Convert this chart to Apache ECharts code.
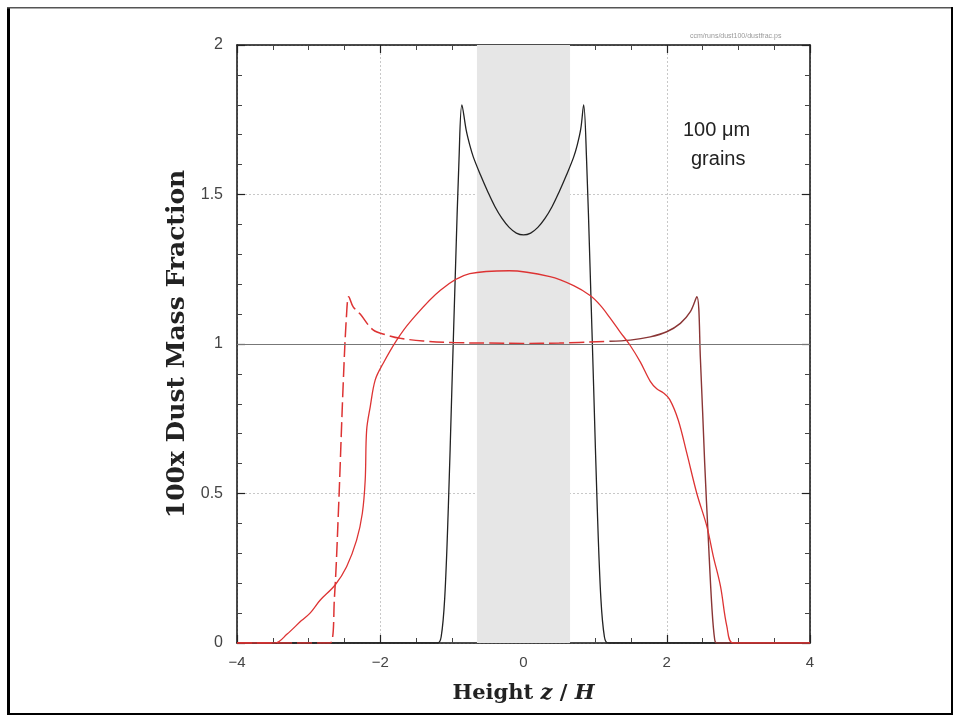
<!DOCTYPE html>
<html>
<head>
<meta charset="utf-8">
<script src="https://cdn.jsdelivr.net/npm/echarts@6/dist/echarts.min.js"></script>
<style>
  html, body { margin: 0; padding: 0; background: #fff; }
  #chart { width: 961px; height: 723px; }
</style>
</head>
<body>
<div id="chart"></div>
<script>
// Dust-to-gas ratio profiles versus height for 100 micron grains
const gasLevel = 1;
const midplaneBand = [-0.65, 0.65];

const blackX = [-4, -1.2, -1.15, -1.1, -1.05, -1.0, -0.95, -0.9, -0.86, -0.8, -0.75, -0.7, -0.6, -0.5, -0.4, -0.3, -0.2, -0.1, 0,
                0.1, 0.2, 0.3, 0.4, 0.5, 0.6, 0.7, 0.75, 0.8, 0.84, 0.88, 0.93, 0.98, 1.03, 1.08, 1.13, 1.18, 4];
const blackY = [0, 0, 0.02, 0.15, 0.45, 0.85, 1.25, 1.62, 1.80, 1.715, 1.665, 1.625, 1.565, 1.51, 1.46, 1.42, 1.39, 1.371, 1.365,
                1.371, 1.39, 1.42, 1.46, 1.51, 1.565, 1.625, 1.665, 1.72, 1.80, 1.62, 1.25, 0.85, 0.45, 0.15, 0.02, 0, 0];

const redX = [-4, -3.47, -3.3, -3.1, -2.98, -2.84, -2.63, -2.47, -2.33, -2.25, -2.21, -2.19, -2.14, -2.07, -1.96, -1.77, -1.58, -1.16, -0.75, -0.2,
              0.37, 0.7, 0.93, 1.07, 1.2, 1.35, 1.49, 1.63, 1.77, 1.86, 1.95, 2.04, 2.16, 2.28, 2.42, 2.56, 2.65, 2.75, 2.84, 2.93, 4];
const redY = [0, 0, 0.03, 0.075, 0.10, 0.143, 0.194, 0.255, 0.344, 0.434, 0.545, 0.712, 0.79, 0.88, 0.935, 1.013, 1.075, 1.18, 1.235, 1.245,
              1.225, 1.195, 1.162, 1.13, 1.09, 1.04, 0.995, 0.94, 0.875, 0.85, 0.837, 0.815, 0.746, 0.635, 0.50, 0.39, 0.29, 0.19, 0.055, 0, 0];

const dashLeftX = [-4, -2.70, -2.64, -2.585, -2.515, -2.47, -2.44, -2.38, -2.28, -2.10, -1.91, -1.72, -1.4, -1.0, -0.5, 0, 0.5, 1.2];
const dashLeftY = [0, 0, 0.15, 0.434, 0.88, 1.10, 1.158, 1.125, 1.10, 1.047, 1.03, 1.019, 1.01, 1.005, 1.003, 1.002, 1.003, 1.009];
const dashRightX = [1.2, 1.49, 1.77, 2.0, 2.19, 2.33, 2.42, 2.47, 2.53, 2.58, 2.63, 2.67, 2.7, 4];
const dashRightY = [1.009, 1.013, 1.024, 1.041, 1.069, 1.108, 1.158, 0.95, 0.6, 0.35, 0.12, 0.01, 0, 0];

const xTicks = [-4, -2, 0, 2, 4];
const yTicks = [0, 0.5, 1, 1.5, 2];

const pairs = (xs, ys) => xs.map((x, i) => [x, ys[i]]);
const fmtNum = v => String(v).replace('-', '\u2212');

const chart = echarts.init(document.getElementById('chart'), null, { renderer: 'canvas' });

const tickStyle = { show: true, inside: true, length: 8, lineStyle: { color: '#222', width: 1.2 } };
const minorStyle = n => ({ show: true, splitNumber: n, length: 5, lineStyle: { color: '#444', width: 1 } });

function frameAxis(extra) {
  return Object.assign({
    type: 'value',
    axisLine: { show: true, onZero: false, lineStyle: { color: '#111', width: 1.5 } },
    axisTick: tickStyle,
    splitLine: { show: false },
    axisLabel: { show: false }
  }, extra);
}

chart.setOption({
  animation: false,
  backgroundColor: '#fff',
  grid: { left: 237, right: 151, top: 45, bottom: 80, containLabel: false },
  xAxis: [
    frameAxis({
      min: -4, max: 4, interval: 2, position: 'bottom',
      minorTick: minorStyle(4),
      axisLabel: { show: true, color: '#444', fontFamily: 'Liberation Sans', fontSize: 15, margin: 12,
                   formatter: v => xTicks.includes(v) ? fmtNum(v) : '' },
      splitLine: { show: true, lineStyle: { color: '#c8c8c8', type: [2, 2], width: 1 } },
      name: '{b|Height }{i|z}{b| / }{i|H}', nameLocation: 'middle', nameGap: 40,
      nameTextStyle: {
        rich: {
          b: { fontFamily: 'DejaVu Serif', fontWeight: 'bold', fontSize: 21, color: '#222' },
          i: { fontFamily: 'DejaVu Serif', fontWeight: 'bold', fontStyle: 'italic', fontSize: 21, color: '#222' }
        }
      }
    }),
    frameAxis({ min: -4, max: 4, interval: 2, position: 'top', minorTick: minorStyle(4) })
  ],
  yAxis: [
    frameAxis({
      min: 0, max: 2, interval: 0.5, position: 'left',
      minorTick: minorStyle(5),
      axisLabel: { show: true, color: '#444', fontFamily: 'Liberation Sans', fontSize: 16, margin: 14,
                   formatter: v => yTicks.includes(v) ? String(v) : '' },
      splitLine: { show: true, lineStyle: { color: '#c8c8c8', type: [2, 2], width: 1 } },
      name: '100x Dust Mass Fraction', nameLocation: 'middle', nameGap: 46, nameRotate: 90,
      nameTextStyle: { fontFamily: 'DejaVu Serif', fontWeight: 'bold', fontSize: 25, color: '#222' }
    }),
    frameAxis({ min: 0, max: 2, interval: 0.5, position: 'right', minorTick: minorStyle(5) })
  ],
  series: [
    {
      name: 'band', type: 'line', data: [], silent: true,
      markArea: {
        silent: true,
        itemStyle: { color: '#e6e6e6' },
        data: [[{ xAxis: midplaneBand[0] }, { xAxis: midplaneBand[1] }]]
      },
      markLine: {
        silent: true, symbol: 'none', label: { show: false },
        lineStyle: { color: '#777', type: 'solid', width: 1.2 },
        data: [{ yAxis: gasLevel }]
      }
    },
    {
      name: 'black', type: 'line', data: pairs(blackX, blackY), showSymbol: false,
      smooth: 0.35,
      lineStyle: { color: '#222', width: 1.3 }, z: 3
    },
    {
      name: 'red', type: 'line', data: pairs(redX, redY), showSymbol: false,
      smooth: 0.35,
      lineStyle: { color: '#dd3333', width: 1.3 }, z: 5
    },
    {
      name: 'redDashed', type: 'line', data: pairs(dashLeftX, dashLeftY), showSymbol: false,
      smooth: 0.35,
      lineStyle: { color: '#dd3333', width: 1.5, type: [15, 5] }, z: 4
    },
    {
      name: 'redDashedRight', type: 'line', data: pairs(dashRightX, dashRightY), showSymbol: false,
      smooth: 0.35,
      lineStyle: { color: '#8a3535', width: 1.4 }, z: 4
    }
  ],
  graphic: [
    { type: 'text', left: 683, top: 120, style: { text: '100 \u03bcm', fontFamily: 'Liberation Sans', fontSize: 20, fill: '#222' } },
    { type: 'text', left: 691, top: 149, style: { text: 'grains', fontFamily: 'Liberation Sans', fontSize: 20, fill: '#222' } },
    { type: 'text', left: 690, top: 33, style: { text: 'ccm/runs/dust100/dustfrac.ps', fontFamily: 'Liberation Sans', fontSize: 7, fill: '#999' } },
    // page frame
    { type: 'rect', shape: { x: 7, y: 7, width: 3, height: 708 }, style: { fill: '#000' } },
    { type: 'rect', shape: { x: 7, y: 7, width: 946, height: 1.5 }, style: { fill: '#555' } },
    { type: 'rect', shape: { x: 951, y: 7, width: 2, height: 708 }, style: { fill: '#000' } },
    { type: 'rect', shape: { x: 7, y: 713, width: 946, height: 2 }, style: { fill: '#000' } }
  ]
});
</script>
</body>
</html>
